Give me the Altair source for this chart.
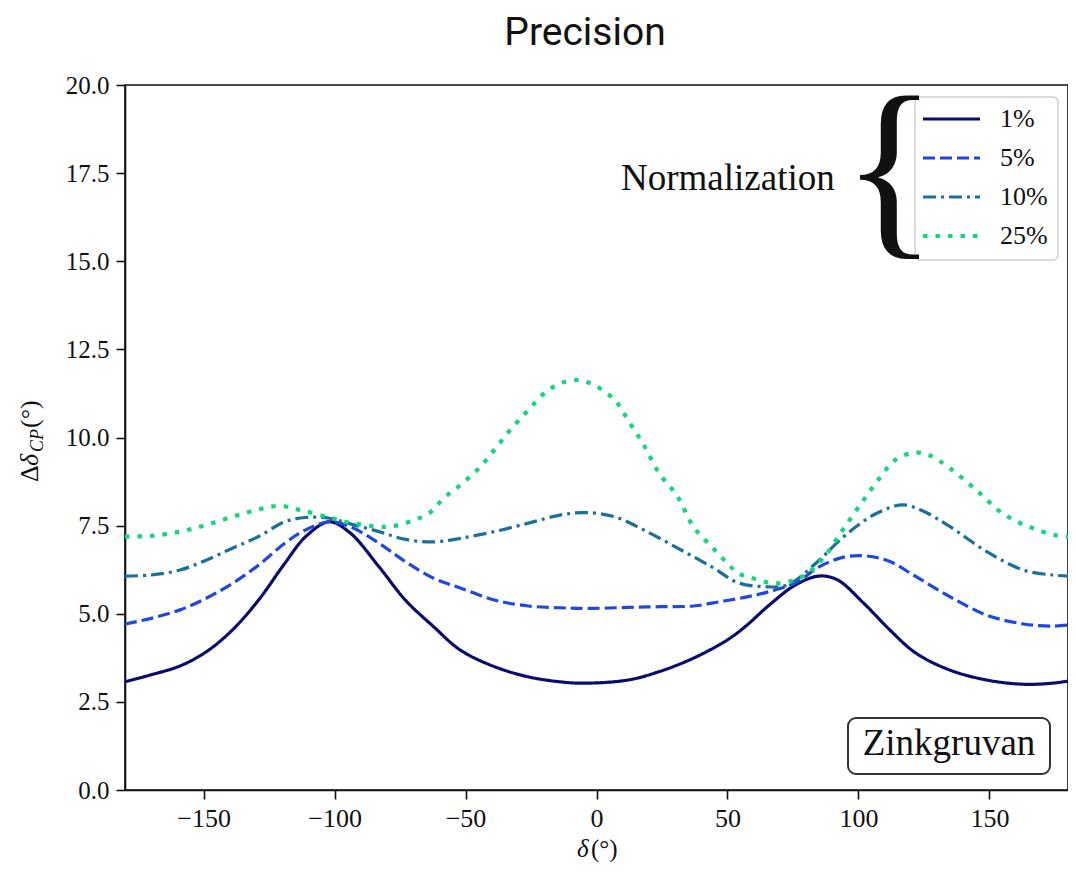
import altair as alt
import pandas as pd

# ---- data ----
series_names = ["1%", "5%", "10%", "25%"]

x_1 = [-180, -170, -159, -149, -139, -129, -119, -111, -102, -94, -83, -73, -62, -52, -39, -26, -14, -5,
       12, 24, 37, 50, 57, 66, 76, 85, 92, 102, 112, 122, 135, 149, 163, 174, 180]
y_1 = [3.07, 3.27, 3.52, 3.92, 4.54, 5.39, 6.43, 7.19, 7.61, 7.29, 6.33, 5.39, 4.62, 3.97, 3.50, 3.21, 3.07, 3.03,
       3.12, 3.36, 3.74, 4.26, 4.65, 5.25, 5.82, 6.07, 5.96, 5.30, 4.54, 3.88, 3.40, 3.12, 3.00, 3.03, 3.09]

x_5 = [-180, -170, -159, -149, -139, -129, -119, -111, -102, -94, -83, -73, -62, -52, -39, -26, -14, -4,
       12, 24, 37, 47, 57, 66, 76, 85, 94, 103, 112, 122, 135, 149, 163, 174, 180]
y_5 = [4.71, 4.87, 5.11, 5.44, 5.86, 6.38, 7.00, 7.38, 7.61, 7.47, 7.00, 6.48, 6.00, 5.73, 5.39, 5.22, 5.17, 5.15,
       5.18, 5.20, 5.22, 5.34, 5.47, 5.63, 5.88, 6.33, 6.60, 6.64, 6.48, 6.05, 5.48, 4.96, 4.71, 4.65, 4.68]

x_10 = [-180, -170, -159, -149, -139, -129, -119, -111, -102, -94, -83, -73, -62, -52, -39, -26, -14, -4,
        7, 18, 31, 44, 54, 64, 73, 85, 95, 107, 117, 125, 135, 149, 163, 174, 180]
y_10 = [6.07, 6.10, 6.24, 6.52, 6.86, 7.19, 7.61, 7.73, 7.71, 7.55, 7.33, 7.11, 7.04, 7.14, 7.33, 7.57, 7.80, 7.87,
        7.75, 7.38, 6.86, 6.33, 5.88, 5.77, 5.82, 6.52, 7.23, 7.85, 8.09, 7.90, 7.47, 6.76, 6.24, 6.10, 6.07]

x_25 = [-180, -170, -159, -149, -139, -129, -121, -113, -102, -94, -83, -78, -71, -64, -58, -52, -45, -39,
        -33, -26, -20, -14, -7, -1, 7, 12, 18, 24, 31, 37, 44, 50, 54, 60, 69, 79, 87, 94, 102, 108, 114,
        121, 127, 135, 145, 155, 165, 175, 180]
y_25 = [7.19, 7.21, 7.33, 7.52, 7.75, 7.96, 8.06, 7.94, 7.73, 7.58, 7.47, 7.48, 7.62, 7.85, 8.30, 8.65, 9.12, 9.65,
        10.21, 10.78, 11.25, 11.53, 11.63, 11.49, 11.06, 10.50, 9.79, 8.98, 8.32, 7.47, 6.90, 6.43, 6.15, 6.00,
        5.86, 6.07, 6.62, 7.38, 8.23, 8.84, 9.36, 9.57, 9.50, 9.12, 8.51, 7.85, 7.47, 7.23, 7.18]

x_ticks = [-150, -100, -50, 0, 50, 100, 150]
y_ticks = [0, 2.5, 5, 7.5, 10, 12.5, 15, 17.5, 20]

colors = ["#0b0b6c", "#1f48de", "#1a6f9d", "#15d67c"]
dashes = [[1, 0], [12, 5], [13, 5, 3, 5], [4.5, 8]]

# ---- build table ----
frames = []
for name, xs, ys in zip(series_names, [x_1, x_5, x_10, x_25], [y_1, y_5, y_10, y_25]):
    frames.append(pd.DataFrame({"delta": xs, "ddcp": ys, "series": name}))
df = pd.concat(frames, ignore_index=True)

W, H = 943, 705
SERIF = "Liberation Serif"
INK = "#111111"

base_x = alt.X("delta:Q", scale=alt.Scale(domain=[-180, 180], nice=False, zero=False),
               axis=alt.Axis(values=x_ticks, title=None, format="d"))
base_y = alt.Y("ddcp:Q", scale=alt.Scale(domain=[0, 20], nice=False, zero=True),
               axis=alt.Axis(values=y_ticks, title=None, format=".1f"))

lines = []
for name, col, dash in zip(series_names, colors, dashes):
    sw = 4.2 if name == "25%" else 3.2
    lines.append(
        alt.Chart(df[df.series == name]).mark_line(
            interpolate="catmull-rom", color=col, strokeDash=dash, strokeWidth=sw, strokeCap="butt"
        ).encode(x=base_x, y=base_y)
    )

one = pd.DataFrame({"a": [0]})


def txt(text, x, y, size, align="left", baseline="alphabetic", angle=0, font=SERIF, style="normal"):
    return alt.Chart(one).mark_text(
        text=text, align=align, baseline=baseline, angle=angle, font=font,
        fontSize=size, fontStyle=style, color=INK
    ).encode(x=alt.value(x), y=alt.value(y))


# legend box
legend_box = alt.Chart(one).mark_rect(
    fill="white", fillOpacity=0.8, stroke="#cfcfcf", strokeWidth=1.5, cornerRadius=5
).encode(x=alt.value(790), x2=alt.value(933), y=alt.value(12), y2=alt.value(175))

legend_items = []
row_y = [34, 73, 112, 151]
for name, col, dash, ry in zip(series_names, colors, dashes, row_y):
    sw = 4.2 if name == "25%" else 3.2
    legend_items.append(
        alt.Chart(one).mark_rule(color=col, strokeDash=dash, strokeWidth=sw, strokeCap="butt")
        .encode(x=alt.value(798), x2=alt.value(855), y=alt.value(ry))
    )
    legend_items.append(txt(name, 875, ry, 26, baseline="middle"))

brace = txt("{", 717, 148, 198)
normalization = txt("Normalization", 496, 105, 37)

zink_box = alt.Chart(one).mark_rect(
    fill="white", stroke="#333333", strokeWidth=2, cornerRadius=8
).encode(x=alt.value(723), x2=alt.value(925), y=alt.value(633), y2=alt.value(689))
zink_text = txt("Zinkgruvan", 824, 670, 37, align="center")

title = txt("Precision", 460, -40, 39, align="center", font="Roboto")

# axis titles
x_t1 = txt("δ", 452, 772, 25, style="italic")
x_t2 = txt("(°)", 466, 772, 25)
y_t1 = txt("Δ", -87, 397, 26, angle=270)
y_t2 = txt("δ", -87, 381, 26, angle=270, style="italic")
y_t3 = txt("CP", -82, 367, 18, angle=270, style="italic")
y_t4 = txt("(°)", -87, 343, 26, angle=270)

chart = alt.layer(
    *lines, legend_box, *legend_items, brace, normalization, zink_box, zink_text,
    title, x_t1, x_t2, y_t1, y_t2, y_t3, y_t4
).properties(
    width=W, height=H,
    autosize=alt.AutoSizeParams(type="none"),
    padding={"left": 117, "top": 77, "right": 0, "bottom": 72},
).configure_view(
    stroke=INK, strokeWidth=1.6
).configure_axis(
    grid=False, domainColor=INK, domainWidth=1.6, tickColor=INK, tickWidth=1.6,
    tickSize=9, labelFont=SERIF, labelFontSize=25, labelColor=INK, labelPadding=7
).configure_axisX(labelPadding=6, labelFontSize=26)

chart.save("out.html", embed_options={"renderer": "svg", "actions": False})
